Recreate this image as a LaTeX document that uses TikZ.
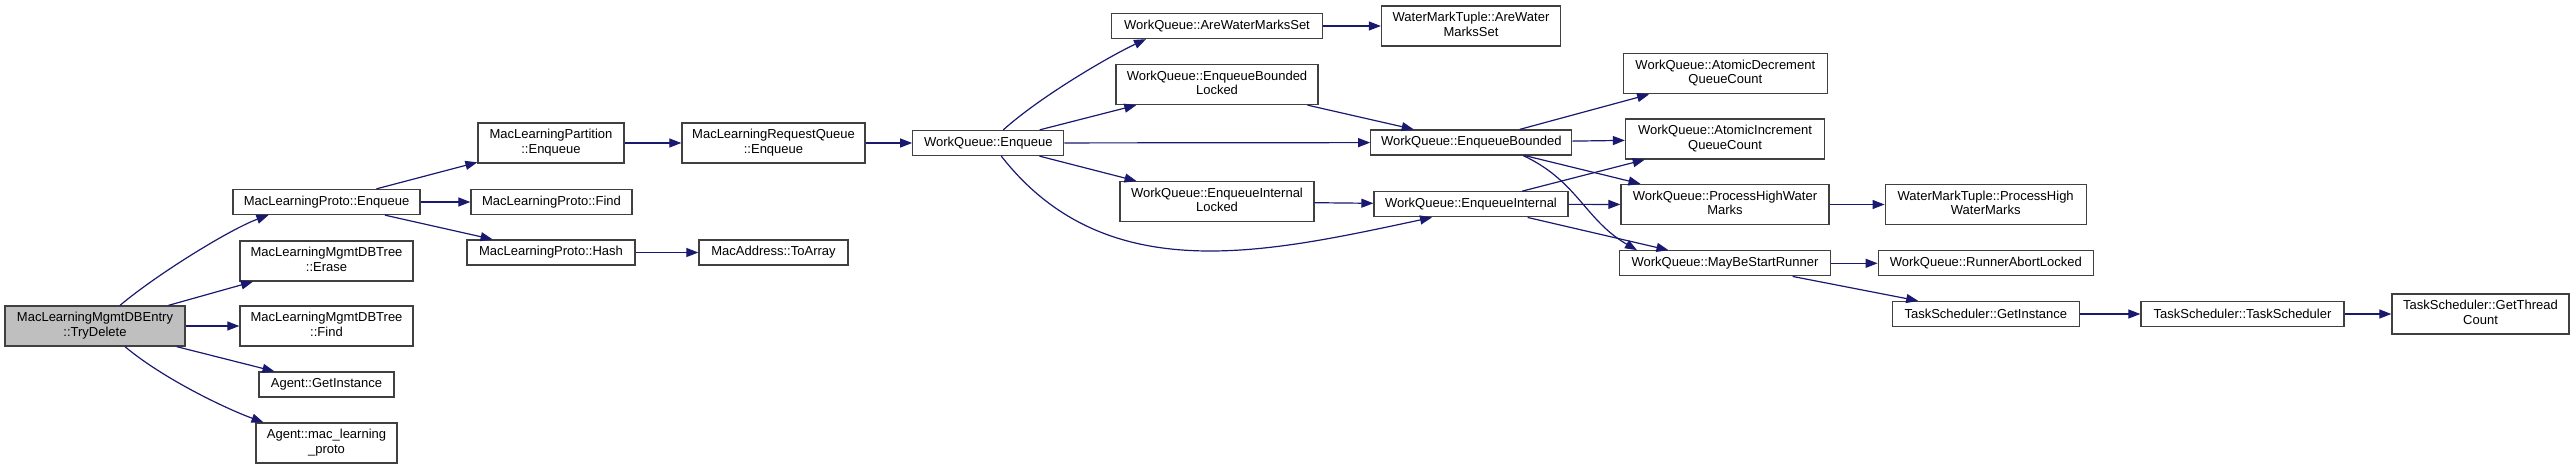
\documentclass[tikz,border=0pt]{standalone}
\usepackage{fontspec}
\setmainfont{Liberation Sans}
\usepackage{tikz}
\usepackage{xcolor}
\usetikzlibrary{arrows.meta,positioning}
\definecolor{edge}{HTML}{191970}
\definecolor{frame}{HTML}{404040}
\definecolor{focus}{HTML}{BFBFBF}
\newcommand{\twoline}[2]{\begin{tabular}{@{}c@{}}#1\\#2\end{tabular}}
\tikzset{
  fn/.style={draw=frame, fill=white, line width=1.3pt, inner sep=0pt,
             font=\fontsize{13}{14.7}\selectfont},
  fnone/.style={fn, minimum height=25pt, minimum width=#1},
  fntwo/.style={fn, minimum height=40pt, minimum width=#1},
  call/.style={-{Triangle[length=12pt,width=9pt]}, line width=1.2pt, draw=edge}
}

\begin{document}
\begin{tikzpicture}[x=1pt,y=1pt]
        \useasboundingbox (0,0) rectangle (2575,-469);
        % caller and first level
        \node[fntwo=180pt,fill=focus] (td) at (95,-326) {\twoline{MacLearningMgmtDBEntry}{::TryDelete}};
        \node[fnone=187pt] (mlpEnq) at (326.5,-202) {MacLearningProto::Enqueue};
        \node[fntwo=173pt] (dbErase) at (326.5,-261) {\twoline{MacLearningMgmtDBTree}{::Erase}};
        \node[fntwo=173pt] (dbFind) at (326.5,-326) {\twoline{MacLearningMgmtDBTree}{::Find}};
        \node[fnone=135pt] (agInst) at (326.5,-384.5) {Agent::GetInstance};
        \node[fntwo=141pt] (agProto) at (326.5,-443) {\twoline{Agent::mac\_learning}{\_proto}};
        % mac learning side
        \node[fntwo=146pt] (mlpartEnq) at (551,-143) {\twoline{MacLearningPartition}{::Enqueue}};
        \node[fnone=161pt] (mlpFind) at (551.5,-202) {MacLearningProto::Find};
        \node[fnone=168pt] (mlpHash) at (551,-252.5) {MacLearningProto::Hash};
        \node[fntwo=183pt] (mlrqEnq) at (773.5,-143) {\twoline{MacLearningRequestQueue}{::Enqueue}};
        \node[fnone=149pt] (macArr) at (773.5,-252.5) {MacAddress::ToArray};
        % work queue
        \node[fnone=151pt] (wqEnq) at (988.3,-143) {WorkQueue::Enqueue};
        \node[fnone=211pt] (wqAwms) at (1217,-26) {WorkQueue::AreWaterMarksSet};
        \node[fntwo=202pt] (wqEbl) at (1217,-84.5) {\twoline{WorkQueue::EnqueueBounded}{Locked}};
        \node[fntwo=194pt] (wqEil) at (1217,-201.7) {\twoline{WorkQueue::EnqueueInternal}{Locked}};
        \node[fntwo=179pt] (wmtAwms) at (1471,-26) {\twoline{WaterMarkTuple::AreWater}{MarksSet}};
        \node[fnone=201pt] (wqEb) at (1471.3,-142.5) {WorkQueue::EnqueueBounded};
        \node[fnone=194pt] (wqEi) at (1471,-204.3) {WorkQueue::EnqueueInternal};
        \node[fntwo=204pt] (wqAdec) at (1725.3,-73.7) {\twoline{WorkQueue::AtomicDecrement}{QueueCount}};
        \node[fntwo=199pt] (wqAinc) at (1725,-139) {\twoline{WorkQueue::AtomicIncrement}{QueueCount}};
        \node[fntwo=208pt] (wqPhwm) at (1725,-204.5) {\twoline{WorkQueue::ProcessHighWater}{Marks}};
        \node[fnone=211pt] (wqMbsr) at (1725,-263.3) {WorkQueue::MayBeStartRunner};
        \node[fntwo=201pt] (wmtPhwm) at (1985.7,-204.5) {\twoline{WaterMarkTuple::ProcessHigh}{WaterMarks}};
        \node[fnone=215pt] (wqRal) at (1985.8,-263.3) {WorkQueue::RunnerAbortLocked};
        % task scheduler
        \node[fnone=187pt] (tsInst) at (1985.8,-314) {TaskScheduler::GetInstance};
        \node[fnone=203pt] (tsCtor) at (2242.5,-314) {TaskScheduler::TaskScheduler};
        \node[fntwo=177pt] (tsThr) at (2480.5,-314) {\twoline{TaskScheduler::GetThread}{Count}};

        \foreach \a/\b in {td/dbErase,td/dbFind,td/agInst,
                           mlpEnq/mlpartEnq,mlpEnq/mlpFind,mlpEnq/mlpHash,
                           mlpartEnq/mlrqEnq,mlrqEnq/wqEnq,mlpHash/macArr,
                           wqEnq/wqEbl,wqEnq/wqEb,wqEnq/wqEil,
                           wqAwms/wmtAwms,wqEbl/wqEb,wqEil/wqEi,
                           wqEb/wqAdec,wqEb/wqAinc,wqEb/wqPhwm,
                           wqEi/wqAinc,wqEi/wqPhwm,wqEi/wqMbsr,
                           wqPhwm/wmtPhwm,wqMbsr/wqRal,wqMbsr/tsInst,
                           tsInst/tsCtor,tsCtor/tsThr} {
          \draw[call] (\a) -- (\b);
        }
        % the curved calls
        \draw[call] ([xshift=25pt]td.north) .. controls +(40:50) and +(200:40) .. ([xshift=-58pt]mlpEnq.south);
        \draw[call] ([xshift=30pt]td.south) .. controls +(-40:50) and +(160:40) .. ([xshift=-63pt]agProto.north);
        \draw[call] ([xshift=15pt]wqEnq.north) .. controls +(42:50) and +(205:40) .. ([xshift=-71pt]wqAwms.south);
        \draw[call] ([xshift=13pt]wqEnq.south) .. controls +(-52:170) and +(192:170) .. ([xshift=-39pt]wqEi.south);
        \draw[call] ([xshift=52pt]wqEb.south) .. controls +(-25:60) and +(150:60) .. ([xshift=-88pt]wqMbsr.north);
      \end{tikzpicture}
\end{document}
